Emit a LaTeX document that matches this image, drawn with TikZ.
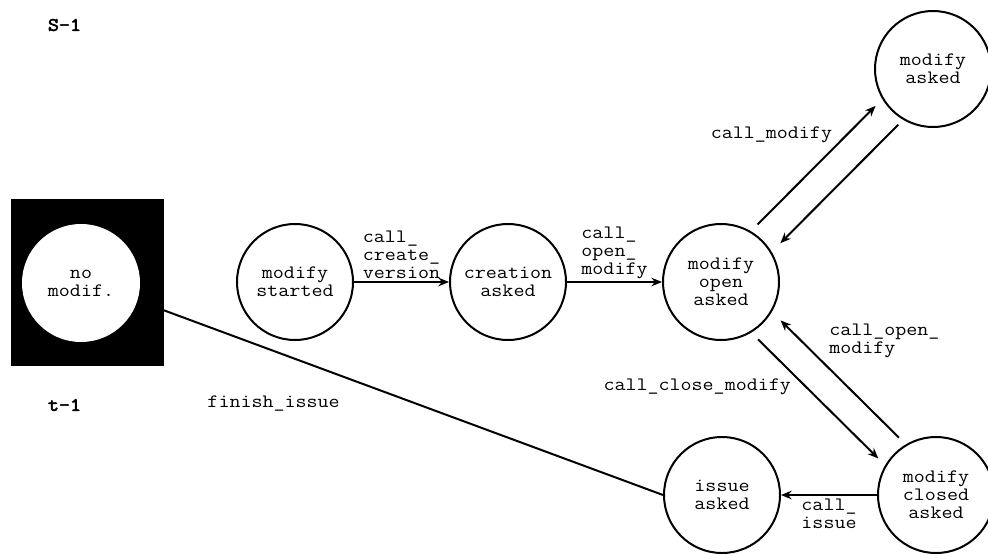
\documentclass[tikz,border=0pt]{standalone}
\usepackage{fontspec}
\setmonofont{Latin Modern Mono}[FakeStretch=1.13]
\newfontfamily\tagfont{Latin Modern Mono}[FakeStretch=1.13,FakeBold=3]
\usetikzlibrary{calc,arrows.meta}

\begin{document}
\begin{tikzpicture}[x=0.75pt,y=-0.75pt,
    state/.style={circle,draw,line width=1.5pt,minimum size=87pt,inner sep=0pt,align=center,
      font=\ttfamily\fontsize{14.2}{13.5}\selectfont},
    trans/.style={line width=1.5pt,-{Stealth[length=8pt,width=6.5pt]}},
    lbl/.style={font=\ttfamily\fontsize{14.2}{13.5}\selectfont,align=left,inner sep=2pt},
    tag/.style={font=\tagfont\fontsize{14.2}{13.5}\selectfont,inner sep=2pt,anchor=west}]
    \useasboundingbox (0,0) rectangle (988,553);
    \node[fill=black,minimum width=114.75pt,minimum height=125.25pt,inner sep=0pt] (nomod) at (87,282) {};
    \node[state,fill=white,draw=white] (nomodc) at (81,283) {no\\modif.};
    \node[state] (started) at (295,282) {modify\\started};
    \node[state] (create) at (508,282) {creation\\asked};
    \node[state] (open) at (721,282) {modify\\open\\asked};
    \node[state] (mask) at (933,69) {modify\\asked};
    \node[state] (closed) at (936,495) {modify\\closed\\asked};
    \node[state] (issue) at (722,495) {issue\\asked};
    \node[tag] (s1) at (45,25) {S-1};
    \node[tag] (t1) at (45,405) {t-1};
    \draw[trans] (started) -- node[lbl,above]{call\_\\create\_\\version} (create);
    \draw[trans] (create) -- node[lbl,above]{call\_\\open\_\\modify} (open);
    \draw[trans,shorten <=50pt,shorten >=50pt] ($(open)!11pt!90:(mask)$)
      -- node[lbl,pos=.59,anchor=south east]{call\_modify} ($(mask)!11pt!-90:(open)$);
    \draw[trans,shorten <=48pt,shorten >=52pt] ($(mask)!11pt!90:(open)$) -- ($(open)!11pt!-90:(mask)$);
    \draw[trans,shorten <=50pt,shorten >=50pt] ($(open)!11pt!-90:(closed)$)
      -- node[lbl,pos=.39,anchor=north east]{call\_close\_modify} ($(closed)!11pt!90:(open)$);
    \draw[trans,shorten <=50pt,shorten >=52pt] ($(closed)!11pt!-90:(open)$)
      -- node[lbl,pos=.58,anchor=south west,xshift=3pt]{call\_open\_\\modify} ($(open)!11pt!90:(closed)$);
    \draw[trans] (closed) -- node[lbl,below]{call\_\\issue} (issue);
    \draw[line width=1.5pt] (issue.west) -- node[lbl,pos=.78,below=31pt]{finish\_issue} (nomod);
\end{tikzpicture}
\end{document}
